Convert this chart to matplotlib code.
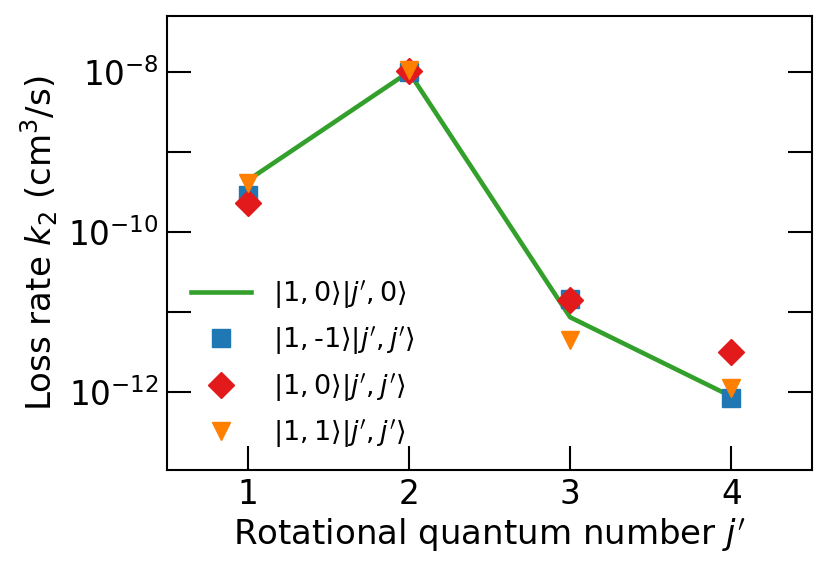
import numpy as np
import matplotlib
matplotlib.use("Agg")
import matplotlib.pyplot as plt
from matplotlib.ticker import FixedLocator, FuncFormatter, NullLocator

# rotational quantum number j'
j_vals = [1, 2, 3, 4]

# loss rates k2 (cm^3/s)
k2_10_j0 = [4.4e-10, 1.0e-8, 8.6e-12, 8.8e-13]      # |1,0>|j',0>  (line)
k2_1m1_jj = [2.9e-10, 1.0e-8, 1.45e-11, 8.3e-13]    # |1,-1>|j',j'>
k2_10_jj = [2.3e-10, 1.04e-8, 1.4e-11, 3.2e-12]     # |1,0>|j',j'>
k2_11_jj = [4.1e-10, 1.07e-8, 4.5e-12, 1.12e-12]    # |1,1>|j',j'>

labels = [
    r"$|1,0\rangle|j^{\prime},0\rangle$",
    r"$|1,$-1$\rangle|j^{\prime},j^{\prime}\rangle$",
    r"$|1,0\rangle|j^{\prime},j^{\prime}\rangle$",
    r"$|1,1\rangle|j^{\prime},j^{\prime}\rangle$",
]

fig = plt.figure(figsize=(8.31, 5.71), dpi=100)
ax = fig.add_axes([167 / 831, 1 - 470 / 571, (812 - 167) / 831, (470 - 16) / 571])

ax.plot(j_vals, k2_10_j0, color="#33a02c", lw=3.3, label=labels[0], zorder=2)
ax.plot(j_vals, k2_1m1_jj, ls="none", marker="s", ms=13, color="#1f78b4",
        label=labels[1], zorder=3)
ax.plot(j_vals, k2_10_jj, ls="none", marker="D", ms=13, color="#e31a1c",
        label=labels[2], zorder=4)
ax.plot(j_vals, k2_11_jj, ls="none", marker="v", ms=13, color="#ff7f00",
        label=labels[3], zorder=5)

ax.set_yscale("log")
ax.set_ylim(1.06e-13, 5e-8)
ax.set_xlim(0.5, 4.5)
ax.set_xticks(j_vals)
ax.set_xticklabels([str(v) for v in j_vals])

ax.yaxis.set_major_locator(FixedLocator([10.0 ** e for e in range(-13, -7)]))
ax.yaxis.set_minor_locator(NullLocator())


def even_decades(v, pos):
    e = int(round(np.log10(v)))
    return r"$10^{%d}$" % e if e % 2 == 0 else ""


ax.yaxis.set_major_formatter(FuncFormatter(even_decades))

ax.tick_params(axis="both", which="major", direction="in", length=17, width=1.5,
               labelsize=23.5, right=True, pad=6)
for s in ax.spines.values():
    s.set_linewidth(1.5)

ax.set_xlabel(r"Rotational quantum number $j^{\prime}$", fontsize=24.5, labelpad=4)
ax.set_ylabel(r"Loss rate $k_2$ (cm$^3$/s)", fontsize=24.5, labelpad=6)

ax.legend(loc="lower left", bbox_to_anchor=(0.0, -0.01), frameon=False,
          fontsize=19.5, handlelength=2.2, labelspacing=0.5, handletextpad=0.8)

fig.savefig("out.png", dpi=100)
